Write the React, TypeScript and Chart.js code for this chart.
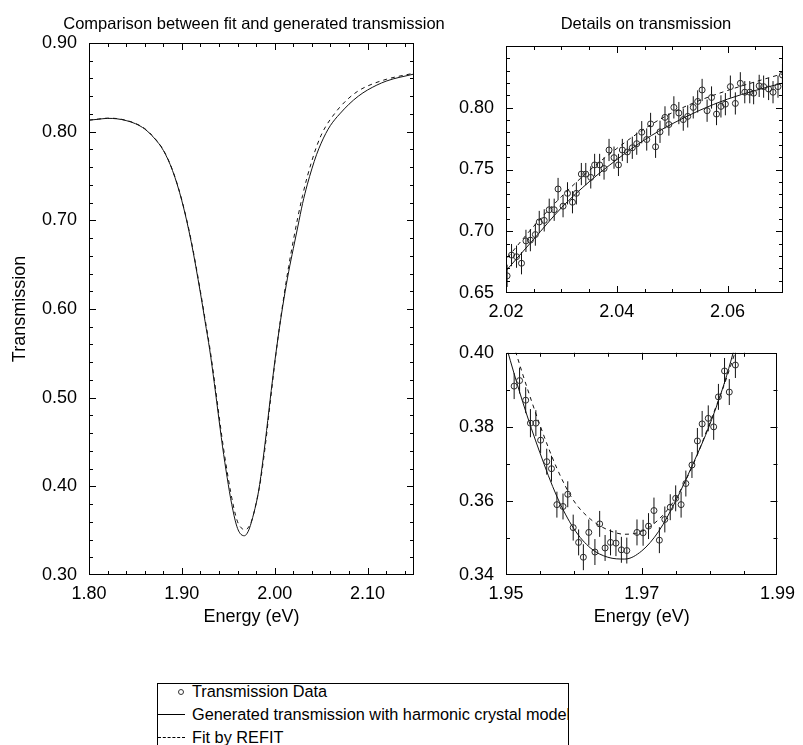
import React, { useEffect, useRef } from "react";
import { Chart, registerables } from "chart.js";

Chart.register(...registerables);

const FONT = "'Liberation Sans', Arimo, Arial, Helvetica, sans-serif";

// ---- model curves (shared by all panels) ----
const curveEnergy = [
  1.8, 1.81, 1.82, 1.83, 1.84, 1.85, 1.86, 1.87, 1.88, 1.89,
  1.9, 1.91, 1.92, 1.925, 1.93, 1.935, 1.94, 1.945, 1.95, 1.9525,
  1.955, 1.9575, 1.96, 1.9625, 1.965, 1.9675, 1.97, 1.9725, 1.975, 1.9775,
  1.98, 1.9825, 1.985, 1.99, 1.995, 2.0, 2.005, 2.01, 2.015, 2.02,
  2.025, 2.03, 2.035, 2.04, 2.045, 2.05, 2.055, 2.06, 2.065, 2.07,
  2.08, 2.09, 2.1, 2.12, 2.15,
];
const generatedTransmission = [
  0.813, 0.814, 0.815, 0.8145, 0.8125, 0.809, 0.803, 0.793, 0.779, 0.756,
  0.722, 0.676, 0.618, 0.586, 0.554, 0.516, 0.475, 0.436, 0.402, 0.3865,
  0.373, 0.3612, 0.3525, 0.3472, 0.3448, 0.3443, 0.3465, 0.3518, 0.36, 0.3698,
  0.3805, 0.3938, 0.411, 0.452, 0.497, 0.54, 0.578, 0.612, 0.642, 0.668,
  0.6935, 0.719, 0.74, 0.758, 0.774, 0.787, 0.798, 0.807, 0.814, 0.82,
  0.831, 0.84, 0.847, 0.857, 0.865,
];
const refitTransmission = [
  0.813, 0.8142, 0.8152, 0.8148, 0.8128, 0.8093, 0.8035, 0.7935, 0.7795, 0.7565,
  0.7228, 0.6775, 0.62, 0.5885, 0.557, 0.52, 0.48, 0.442, 0.409, 0.394,
  0.3805, 0.3688, 0.36, 0.355, 0.3522, 0.351, 0.3518, 0.355, 0.3607, 0.3695,
  0.381, 0.3932, 0.408, 0.447, 0.493, 0.538, 0.579, 0.615, 0.648, 0.677,
  0.704, 0.728, 0.749, 0.767, 0.783, 0.796, 0.806, 0.814, 0.821, 0.8275,
  0.838, 0.846, 0.8515, 0.859, 0.866,
];

// ---- measured transmission, upper detail (2.02 - 2.07 eV) ----
const upperEnergy = [
  2.0202, 2.021, 2.0219, 2.0228, 2.0236, 2.0244, 2.0253, 2.026, 2.0269, 2.0278,
  2.0287, 2.0294, 2.0303, 2.0311, 2.032, 2.0327, 2.0336, 2.0344, 2.0353, 2.036,
  2.0369, 2.0377, 2.0386, 2.0395, 2.0403, 2.041, 2.0419, 2.0428, 2.0436, 2.0445,
  2.0454, 2.0461, 2.047, 2.0478, 2.0487, 2.0494, 2.0503, 2.0512, 2.052, 2.0528,
  2.0538, 2.0546, 2.0554, 2.0563, 2.0571, 2.058, 2.0588, 2.0596, 2.0605, 2.0614,
  2.0623, 2.0631, 2.064, 2.0647, 2.0657, 2.0665, 2.0674, 2.0682, 2.0691, 2.0699,
];
const upperTransmission = [
  0.6639, 0.6807, 0.6794, 0.6741, 0.6922, 0.6928, 0.6973, 0.7075, 0.7088, 0.7174,
  0.7174, 0.7342, 0.7203, 0.7307, 0.7235, 0.7307, 0.7463, 0.7463, 0.7436, 0.7537,
  0.7537, 0.7508, 0.7658, 0.7596, 0.7537, 0.7658, 0.7642, 0.7676, 0.7709, 0.7802,
  0.7743, 0.7869, 0.7684, 0.7805, 0.7922, 0.7864, 0.8003, 0.7957, 0.7904, 0.793,
  0.8003, 0.8051, 0.8144, 0.7976, 0.8083, 0.7949, 0.8011, 0.8029, 0.8171, 0.8035,
  0.8198, 0.8126, 0.8126, 0.8118, 0.8177, 0.8171, 0.8152, 0.8126, 0.8171, 0.8265,
];
const upperError = [
  0.009, 0.009, 0.009, 0.009, 0.009, 0.009, 0.009, 0.009, 0.009, 0.009,
  0.009, 0.009, 0.009, 0.009, 0.009, 0.009, 0.009, 0.009, 0.009, 0.009,
  0.009, 0.009, 0.009, 0.009, 0.009, 0.009, 0.009, 0.009, 0.009, 0.009,
  0.009, 0.009, 0.009, 0.009, 0.009, 0.009, 0.009, 0.009, 0.009, 0.009,
  0.009, 0.009, 0.009, 0.009, 0.009, 0.009, 0.009, 0.009, 0.009, 0.009,
  0.009, 0.009, 0.009, 0.009, 0.009, 0.009, 0.009, 0.009, 0.009, 0.009,
];

// ---- measured transmission, lower detail (1.95 - 1.99 eV) ----
const lowerEnergy = [
  1.9512, 1.952, 1.9529, 1.9536, 1.9544, 1.9551, 1.956, 1.9567, 1.9575, 1.9584,
  1.9591, 1.9599, 1.9607, 1.9614, 1.9622, 1.9631, 1.9638, 1.9646, 1.9654, 1.9662,
  1.967, 1.9678, 1.9693, 1.9702, 1.971, 1.9718, 1.9726, 1.9734, 1.9742, 1.975,
  1.9758, 1.9765, 1.9774, 1.9782, 1.9789, 1.9798, 1.9806, 1.9813, 1.9822, 1.9829,
  1.9838,
];
const lowerTransmission = [
  0.391, 0.3925, 0.3872, 0.381, 0.381, 0.3764, 0.3706, 0.3687, 0.359, 0.3585,
  0.3618, 0.3528, 0.3488, 0.3448, 0.3515, 0.3462, 0.3538, 0.3473, 0.3488, 0.3486,
  0.3468, 0.3466, 0.3515, 0.3514, 0.3532, 0.3574, 0.3494, 0.355, 0.3583, 0.3607,
  0.359, 0.3647, 0.3697, 0.3762, 0.3808, 0.3823, 0.38, 0.3881, 0.3951, 0.3894,
  0.3967,
];
const lowerError = [
  0.0035, 0.0035, 0.0035, 0.0038, 0.0035, 0.0035, 0.0035, 0.0035, 0.0035, 0.0035,
  0.0035, 0.0035, 0.0035, 0.0035, 0.0035, 0.0035, 0.0035, 0.0035, 0.0035, 0.0035,
  0.0035, 0.0035, 0.0035, 0.0035, 0.0035, 0.0035, 0.0035, 0.0035, 0.0035, 0.0035,
  0.0035, 0.0035, 0.0035, 0.0035, 0.0035, 0.0035, 0.0035, 0.0035, 0.0035, 0.0035,
  0.0035,
];

// ---- tick labels ----
const mainXLabels = [1.8, 1.9, 2.0, 2.1];
const mainYLabels = [0.3, 0.4, 0.5, 0.6, 0.7, 0.8, 0.9];
const upperXLabels = [2.02, 2.04, 2.06];
const upperYLabels = [0.65, 0.7, 0.75, 0.8];
const lowerXLabels = [1.95, 1.97, 1.99];
const lowerYLabels = [0.34, 0.36, 0.38, 0.4];

const mainTitle = "Comparison between fit and generated transmission";
const detailTitle = "Details on transmission";
const legendLabels = [
  "Transmission Data",
  "Generated transmission with harmonic crystal model",
  "Fit by REFIT",
];

type AxisSpec = { min: number; max: number; minor: number; labels: number[] };
type PointSet = { energy: number[]; value: number[]; error: number[] };
type Panel = {
  left: number;
  top: number;
  width: number;
  height: number;
  padding: { left: number; top: number; right: number; bottom: number };
  yAxisWidth: number;
  xAxisHeight: number;
  xTitle?: string;
  yTitle?: string;
  x: AxisSpec;
  y: AxisSpec;
  points?: PointSet;
};

const near = (a: number, b: number) => Math.abs(a - b) < 1e-7;
const isLabelled = (v: number, labels: number[]) => labels.some((l) => near(l, v));

function tickValues(min: number, max: number, step: number) {
  const out: number[] = [];
  for (let i = 0; ; i++) {
    const v = +(min + i * step).toFixed(6);
    if (v > max + 1e-9) break;
    out.push(v);
  }
  return out;
}

const frameTicks = {
  id: "frameTicks",
  afterDraw(chart: any, _args: any, opts: any) {
    const { ctx, chartArea: a } = chart;
    const xs = chart.scales.x;
    const ys = chart.scales.y;
    ctx.save();
    ctx.strokeStyle = "#000";
    ctx.lineWidth = 1;
    ctx.beginPath();
    xs.ticks.forEach((t: any) => {
      const p = Math.round(xs.getPixelForValue(t.value)) + 0.5;
      if (p <= a.left + 1.5 || p >= a.right - 1.5) return;
      const len = isLabelled(t.value, opts.xLabels) ? 7 : 4;
      ctx.moveTo(p, a.bottom);
      ctx.lineTo(p, a.bottom - len);
      ctx.moveTo(p, a.top);
      ctx.lineTo(p, a.top + len);
    });
    ys.ticks.forEach((t: any) => {
      const p = Math.round(ys.getPixelForValue(t.value)) + 0.5;
      if (p <= a.top + 1.5 || p >= a.bottom - 1.5) return;
      const len = isLabelled(t.value, opts.yLabels) ? 7 : 4;
      ctx.moveTo(a.left, p);
      ctx.lineTo(a.left + len, p);
      ctx.moveTo(a.right, p);
      ctx.lineTo(a.right - len, p);
    });
    ctx.stroke();
    ctx.strokeRect(
      Math.round(a.left) + 0.5,
      Math.round(a.top) + 0.5,
      Math.round(a.right - a.left) - 1,
      Math.round(a.bottom - a.top) - 1
    );
    ctx.restore();
  },
};

function curveData(values: number[]) {
  return curveEnergy.map((e, i) => ({ x: e, y: values[i] }));
}

function errorBarData(p: PointSet) {
  const out: { x: number; y: number | null }[] = [];
  p.energy.forEach((e, i) => {
    out.push({ x: e, y: p.value[i] - p.error[i] });
    out.push({ x: e, y: p.value[i] + p.error[i] });
    out.push({ x: e, y: null });
  });
  return out;
}

function buildConfig(panel: Panel) {
  const datasets: any[] = [];
  if (panel.points) {
    datasets.push({
      label: legendLabels[0],
      data: panel.points.energy.map((e, i) => ({ x: e, y: panel.points!.value[i] })),
      showLine: false,
      pointRadius: 3,
      pointBorderWidth: 1,
      pointBorderColor: "#2a2a2a",
      pointBackgroundColor: "rgba(0,0,0,0)",
      pointStyle: "circle",
    });
    datasets.push({
      label: "error",
      data: errorBarData(panel.points),
      borderColor: "#111",
      borderWidth: 1,
      pointRadius: 0,
      spanGaps: false,
      tension: 0,
    });
  }
  datasets.push({
    label: legendLabels[1],
    data: curveData(generatedTransmission),
    borderColor: "#111",
    borderWidth: 1,
    pointRadius: 0,
    cubicInterpolationMode: "monotone",
  });
  datasets.push({
    label: legendLabels[2],
    data: curveData(refitTransmission),
    borderColor: "#111",
    borderWidth: 1,
    borderDash: [4, 4],
    pointRadius: 0,
    cubicInterpolationMode: "monotone",
  });

  const tickFont = { family: FONT, size: 18 };
  const titleFont = { family: FONT, size: 18 };

  return {
    type: "line",
    data: { datasets },
    plugins: [frameTicks],
    options: {
      responsive: false,
      maintainAspectRatio: false,
      animation: false,
      devicePixelRatio: 1,
      events: [],
      layout: { padding: panel.padding },
      plugins: {
        legend: { display: false },
        tooltip: { enabled: false },
        title: { display: false },
        frameTicks: { xLabels: panel.x.labels, yLabels: panel.y.labels },
      },
      scales: {
        x: {
          type: "linear",
          min: panel.x.min,
          max: panel.x.max,
          grid: { display: false, drawTicks: false },
          border: { display: false },
          afterBuildTicks: (s: any) => {
            s.ticks = tickValues(panel.x.min, panel.x.max, panel.x.minor).map((v) => ({ value: v }));
          },
          afterFit: (s: any) => {
            s.height = panel.xAxisHeight;
          },
          ticks: {
            autoSkip: false,
            maxRotation: 0,
            minRotation: 0,
            padding: 8,
            color: "#000",
            font: tickFont,
            callback: (v: any) => (isLabelled(Number(v), panel.x.labels) ? Number(v).toFixed(2) : ""),
          },
          title: {
            display: !!panel.xTitle,
            text: panel.xTitle || "",
            color: "#000",
            font: titleFont,
            padding: { top: 0, bottom: 22 },
          },
        },
        y: {
          type: "linear",
          min: panel.y.min,
          max: panel.y.max,
          grid: { display: false, drawTicks: false },
          border: { display: false },
          afterBuildTicks: (s: any) => {
            s.ticks = tickValues(panel.y.min, panel.y.max, panel.y.minor).map((v) => ({ value: v }));
          },
          afterFit: (s: any) => {
            s.width = panel.yAxisWidth;
          },
          ticks: {
            autoSkip: false,
            padding: 12,
            color: "#000",
            font: tickFont,
            callback: (v: any) => (isLabelled(Number(v), panel.y.labels) ? Number(v).toFixed(2) : ""),
          },
          title: {
            display: !!panel.yTitle,
            text: panel.yTitle || "",
            color: "#000",
            font: titleFont,
            padding: { top: 9, bottom: 0 },
          },
        },
      },
    },
  };
}

const mainPanel: Panel = {
  left: 0,
  top: 0,
  width: 440,
  height: 650,
  padding: { left: 0, top: 43, right: 26, bottom: 0 },
  yAxisWidth: 89,
  xAxisHeight: 75,
  xTitle: "Energy (eV)",
  yTitle: "Transmission",
  x: { min: 1.8, max: 2.15, minor: 0.02, labels: mainXLabels },
  y: { min: 0.3, max: 0.9, minor: 0.02, labels: mainYLabels },
};

const upperPanel: Panel = {
  left: 440,
  top: 0,
  width: 363,
  height: 330,
  padding: { left: 0, top: 46, right: 20, bottom: 0 },
  yAxisWidth: 66,
  xAxisHeight: 37,
  x: { min: 2.02, max: 2.07, minor: 0.005, labels: upperXLabels },
  y: { min: 0.65, max: 0.85, minor: 0.01, labels: upperYLabels },
  points: { energy: upperEnergy, value: upperTransmission, error: upperError },
};

const lowerPanel: Panel = {
  left: 440,
  top: 330,
  width: 363,
  height: 320,
  padding: { left: 0, top: 18, right: 20, bottom: 0 },
  yAxisWidth: 66,
  xAxisHeight: 75,
  xTitle: "Energy (eV)",
  x: { min: 1.95, max: 1.99, minor: 0.005, labels: lowerXLabels },
  y: { min: 0.34, max: 0.4, minor: 0.01, labels: lowerYLabels },
  points: { energy: lowerEnergy, value: lowerTransmission, error: lowerError },
};

function PanelChart({ panel }: { panel: Panel }) {
  const ref = useRef<HTMLCanvasElement>(null);
  useEffect(() => {
    const chart = new Chart(ref.current as HTMLCanvasElement, buildConfig(panel) as any);
    return () => chart.destroy();
  }, [panel]);
  return (
    <canvas
      ref={ref}
      width={panel.width}
      height={panel.height}
      style={{ position: "absolute", left: panel.left, top: panel.top, width: panel.width, height: panel.height }}
    />
  );
}

function PanelTitle({ text, centerX }: { text: string; centerX: number }) {
  return (
    <div
      style={{
        position: "absolute",
        left: centerX - 250,
        width: 500,
        top: 13,
        height: 20,
        lineHeight: "20px",
        textAlign: "center",
        whiteSpace: "nowrap",
        fontFamily: FONT,
        fontSize: 16.5,
        color: "#000",
      }}
    >
      {text}
    </div>
  );
}

function Legend() {
  const rowStyle = (top: number): React.CSSProperties => ({
    position: "absolute",
    left: 0,
    top,
    height: 23,
    lineHeight: "23px",
    whiteSpace: "nowrap",
  });
  const text: React.CSSProperties = { position: "absolute", left: 34, top: 0 };
  return (
    <div
      style={{
        position: "absolute",
        left: 157,
        top: 683,
        width: 410,
        height: 90,
        border: "1px solid #000",
        overflow: "hidden",
        fontFamily: FONT,
        fontSize: 16.3,
        color: "#000",
        background: "#fff",
      }}
    >
      <div style={rowStyle(-4.5)}>
        <div
          style={{
            position: "absolute",
            left: 20,
            top: 9,
            width: 4,
            height: 4,
            borderRadius: "50%",
            border: "1px solid #333",
          }}
        />
        <span style={text}>{legendLabels[0]}</span>
      </div>
      <div style={rowStyle(18.5)}>
        <div style={{ position: "absolute", left: 0, top: 11, width: 27, borderTop: "1px solid #000" }} />
        <span style={text}>{legendLabels[1]}</span>
      </div>
      <div style={rowStyle(41.5)}>
        <div style={{ position: "absolute", left: 0, top: 11, width: 27, borderTop: "1px dashed #000" }} />
        <span style={text}>{legendLabels[2]}</span>
      </div>
    </div>
  );
}

export default function App() {
  return (
    <div
      style={{
        position: "absolute",
        left: 0,
        top: 0,
        width: 803,
        height: 745,
        overflow: "hidden",
        background: "#fff",
      }}
    >
      <PanelChart panel={mainPanel} />
      <PanelChart panel={upperPanel} />
      <PanelChart panel={lowerPanel} />
      <PanelTitle text={mainTitle} centerX={254} />
      <PanelTitle text={detailTitle} centerX={646} />
      <Legend />
    </div>
  );
}
